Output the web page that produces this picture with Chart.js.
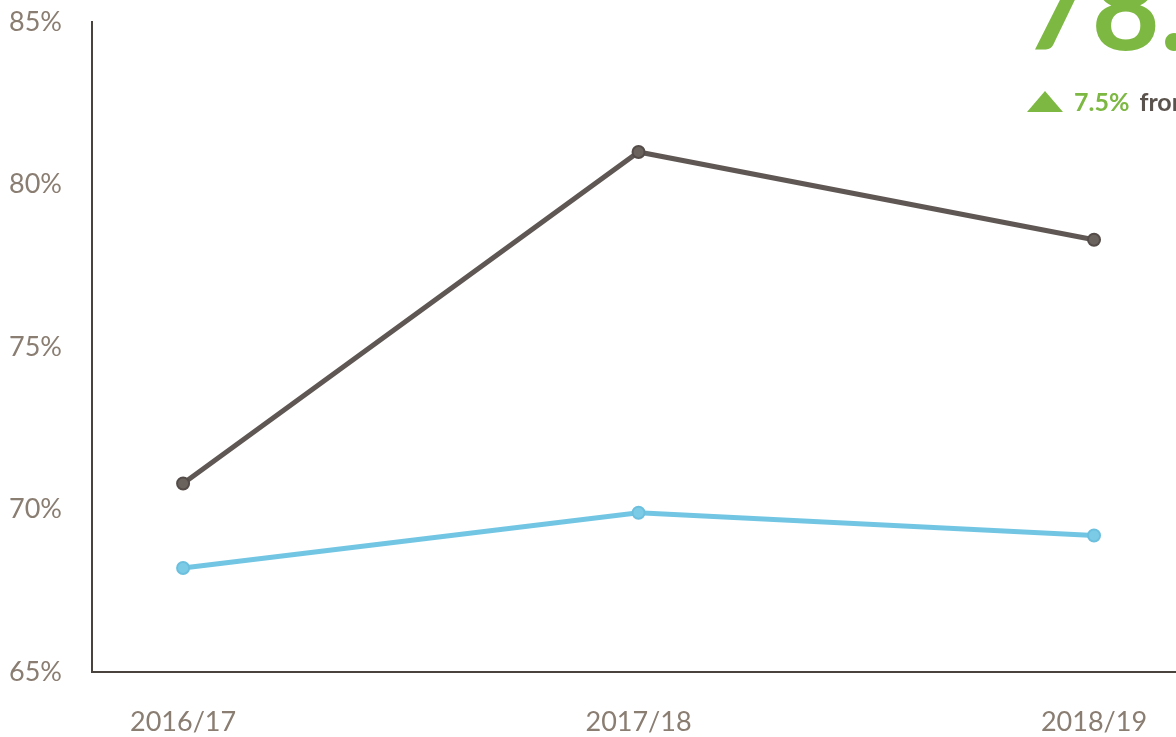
<!DOCTYPE html>
<html>
<head>
<meta charset="utf-8">
<script src="https://cdn.jsdelivr.net/npm/chart.js@4.4.1/dist/chart.umd.min.js"></script>
<style>
    body { margin: 0; overflow: hidden; background: #fff; }
    #wrap { position: relative; width: 1176px; height: 737px; overflow: hidden; }
    #headline {
        position: absolute; left: 1023px; top: -66px;
        font-family: Lato, sans-serif; font-weight: 700; font-size: 118px;
        color: #7db843; white-space: nowrap;
    }
    #change {
        position: absolute; left: 1027px; top: 86px;
        font-family: Lato, sans-serif; font-weight: 700; font-size: 25px;
        white-space: nowrap; color: #5a524d;
    }
    #change .tri {
        display: inline-block; width: 0; height: 0; vertical-align: -1px;
        border-left: 18px solid transparent; border-right: 18px solid transparent;
        border-bottom: 21px solid #7db843; margin-right: 11px;
    }
    #change .pct { color: #7db843; margin-right: 10px; }
</style>
</head>
<body>
<div id="wrap">
    <canvas id="chart" width="1176" height="737"></canvas>
    <div id="headline">78.3%</div>
    <div id="change"><span class="tri"></span><span class="pct">7.5%</span>from 2016/17</div>
</div>
<script>
    const labels = ['2016/17', '2017/18', '2018/19'];
    const darkSeries = [70.8, 81.0, 78.3];
    const blueSeries = [68.2, 69.9, 69.2];
    const yMin = 65;
    const yMax = 85;
    const yStep = 5;

    const toPoints = values => values.map((v, i) => ({ x: i, y: v }));

    const ctx = document.getElementById('chart').getContext('2d');

    new Chart(ctx, {
        type: 'line',
        data: {
            datasets: [
                {
                    data: toPoints(darkSeries),
                    borderColor: '#5f5753',
                    borderWidth: 5,
                    pointRadius: 6,
                    pointBackgroundColor: '#6a625d',
                    pointBorderColor: '#544c48',
                    pointBorderWidth: 2,
                    tension: 0
                },
                {
                    data: toPoints(blueSeries),
                    borderColor: '#72c6e3',
                    borderWidth: 5,
                    pointRadius: 6,
                    pointBackgroundColor: '#7ccbe6',
                    pointBorderColor: '#6cc0de',
                    pointBorderWidth: 2,
                    tension: 0
                }
            ]
        },
        options: {
            responsive: false,
            animation: false,
            layout: { autoPadding: false, padding: { top: 0, left: 7, right: 0, bottom: 0 } },
            plugins: { legend: { display: false }, tooltip: { enabled: false } },
            scales: {
                x: {
                    type: 'linear',
                    min: -0.2,
                    max: 2.18,
                    grid: { display: false, drawTicks: false },
                    border: { display: true, color: '#4a423c', width: 2 },
                    afterBuildTicks: axis => { axis.ticks = labels.map((_, i) => ({ value: i })); },
                    afterFit: axis => {
                        axis.height = 65;
                        axis.paddingLeft = 0;
                        axis.paddingRight = 0;
                    },
                    ticks: {
                        padding: 34,
                        color: '#8a7d72',
                        font: { family: 'Lato', size: 27 },
                        maxRotation: 0,
                        callback: v => labels[v]
                    }
                },
                y: {
                    min: yMin,
                    max: yMax,
                    grid: { display: false, drawTicks: false },
                    border: { display: true, color: '#4a423c', width: 2 },
                    afterFit: axis => {
                        axis.width = 85;
                        axis.paddingTop = 22;
                    },
                    ticks: {
                        stepSize: yStep,
                        padding: 30,
                        color: '#8a7d72',
                        font: { family: 'Lato', size: 27 },
                        callback: v => v + '%'
                    }
                }
            }
        }
    });
</script>
</body>
</html>
